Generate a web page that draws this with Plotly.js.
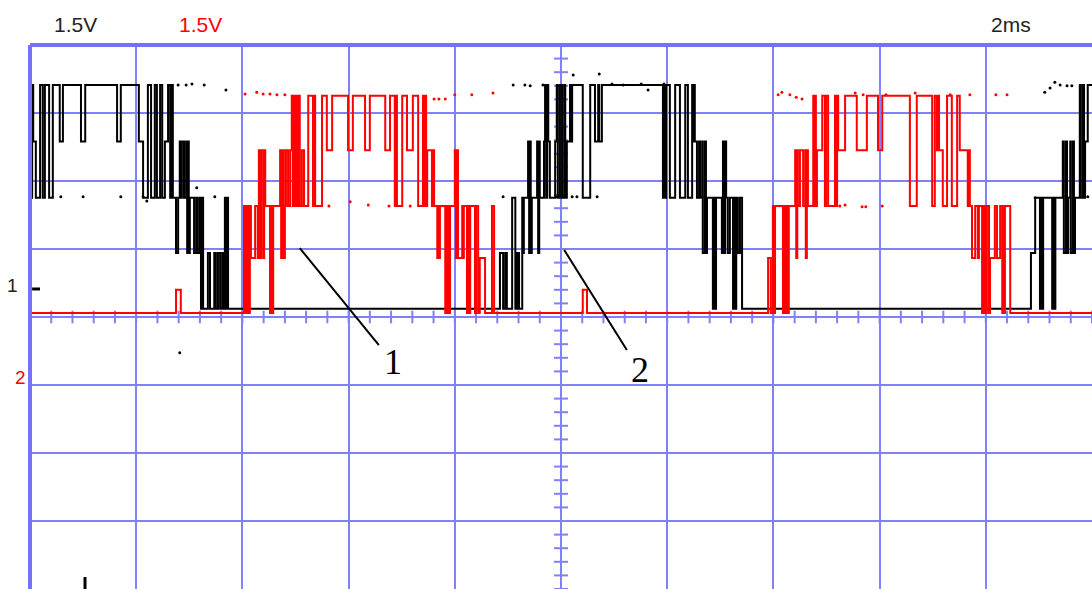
<!DOCTYPE html>
<html>
<head>
<meta charset="utf-8">
<script src="https://cdn.plot.ly/plotly-3.0.1.min.js"></script>
<style>html,body{margin:0;padding:0;background:#fff;}#chart{width:1092px;height:589px;}</style>
</head>
<body>
<div id="chart"></div>
<script>
// Oscilloscope capture: 2 ms/div, 1.5 V/div on both channels
const channelLabels = ["1.5V", "1.5V"];
const timeLabel = "2ms";

// Channel 1 (black): discrete levels in volts, transitions (ms) and level index after each transition
const blackLevels = [0.18, 1.41, 2.63, 3.87, 5.12];
const blackTimes = [
  0.00, 0.02, 0.04, 0.06, 0.11, 0.19, 0.24, 0.28, 0.36, 0.43,
  0.56, 0.62, 0.96, 1.04, 1.64, 1.71, 2.05, 2.13, 2.22, 2.28,
  2.35, 2.39, 2.45, 2.49, 2.54, 2.60, 2.64, 2.66, 2.69, 2.75,
  2.79, 2.82, 2.84, 2.86, 2.90, 2.94, 2.96, 2.98, 2.99, 3.01,
  3.09, 3.13, 3.16, 3.20, 3.22, 3.24, 3.26, 3.35, 3.39, 3.47,
  3.50, 3.54, 3.58, 3.62, 3.65, 3.67, 3.69, 3.71, 3.73,
  8.85, 8.91, 8.95, 8.98, 9.08, 9.14, 9.15, 9.17, 9.19, 9.21,
  9.27, 9.28, 9.30, 9.38, 9.40, 9.42, 9.43, 9.45, 9.55, 9.57,
  9.59, 9.60, 9.68, 9.70, 9.72, 9.74, 9.76, 9.79, 9.89, 9.92,
  9.94, 9.98, 10.02, 10.06, 10.08, 10.11, 10.17, 10.19, 10.21, 10.41,
  10.55, 10.64, 10.70, 10.72, 10.77,
  11.92, 11.94, 11.96, 11.98, 12.05, 12.15, 12.24, 12.34, 12.39, 12.47,
  12.49, 12.51, 12.52, 12.56, 12.60, 12.62, 12.66, 12.67, 12.71, 12.73,
  12.75, 12.86, 12.88, 12.90, 12.92, 13.03, 13.05, 13.07, 13.09, 13.11,
  13.14, 13.18, 13.24, 13.26, 13.28, 13.30, 13.33, 13.37, 13.41,
  18.85, 18.93, 19.02, 19.04, 19.06, 19.08, 19.25, 19.27, 19.29, 19.31,
  19.45, 19.47, 19.51, 19.53, 19.55, 19.59, 19.60, 19.64, 19.66, 19.68,
  19.77, 19.79, 19.83, 19.85, 19.87, 19.92
];
const blackSteps = [
  4, 2, 4, 3, 2, 4, 2, 4, 2, 4,
  3, 4, 3, 4, 3, 4, 3, 2, 4, 2,
  4, 2, 4, 2, 3, 4, 2, 4, 2, 1,
  2, 3, 2, 3, 2, 3, 1, 3, 1, 2,
  1, 2, 1, 2, 0, 2, 0, 1, 0, 1,
  0, 1, 0, 1, 0, 2, 0, 2, 0,
  1, 0, 1, 0, 2, 0, 1, 0, 1, 0,
  2, 1, 2, 3, 1, 3, 1, 2, 3, 1,
  3, 2, 3, 4, 2, 4, 3, 2, 3, 4,
  2, 4, 2, 4, 2, 3, 4, 3, 4, 2,
  4, 3, 4, 3, 4,
  2, 4, 2, 4, 2, 4, 2, 4, 2, 4,
  3, 4, 3, 2, 3, 2, 3, 1, 3, 1,
  2, 0, 2, 0, 2, 1, 3, 1, 3, 2,
  1, 2, 0, 2, 0, 2, 1, 2, 0,
  1, 2, 0, 2, 0, 2, 0, 2, 0, 2,
  3, 1, 3, 1, 2, 3, 1, 3, 1, 2,
  4, 2, 4, 2, 3, 4
];

// Channel 2 (red): levels in volts (last entry = short glitch level)
const redLevels = [0.09, 1.30, 2.45, 3.68, 4.88, 0.60];
const redTimes = [
  0.00, 2.75, 2.84, 4.03, 4.05, 4.07, 4.09, 4.11, 4.12, 4.14,
  4.16, 4.24, 4.29, 4.31, 4.33, 4.35, 4.39, 4.41, 4.43, 4.52,
  4.54, 4.56, 4.58, 4.71, 4.73, 4.75, 4.78, 4.80, 4.82, 4.86,
  4.90, 4.93, 4.95, 4.97, 4.99, 5.01, 5.03, 5.05, 5.08, 5.12,
  5.16, 5.24, 5.33, 5.35, 5.37, 5.50, 5.59, 5.69, 5.99, 6.08,
  6.31, 6.40, 6.69, 6.78, 6.87, 6.89, 6.91, 7.01, 7.10, 7.21,
  7.31, 7.40, 7.42, 7.44, 7.46, 7.48, 7.57, 7.59, 7.61, 7.67,
  7.68, 7.70, 7.72, 7.82, 7.84, 7.85, 7.87, 7.89, 7.91, 8.00,
  8.02, 8.04, 8.06, 8.14, 8.15, 8.17, 8.23, 8.25, 8.27, 8.29,
  8.38, 8.40, 8.44, 8.47, 8.57, 8.70, 8.74, 10.41, 10.49, 13.90,
  13.95, 13.99, 14.01, 14.03, 14.18, 14.20, 14.22, 14.24, 14.26, 14.29,
  14.41, 14.43, 14.45, 14.46, 14.50, 14.56, 14.60, 14.61, 14.63, 14.65,
  14.75, 14.76, 14.78, 14.80, 14.82, 14.92, 14.97, 14.99, 15.03, 15.16,
  15.18, 15.20, 15.22, 15.35, 15.57, 15.76, 15.97, 16.05, 16.57, 16.70,
  16.99, 17.04, 17.08, 17.10, 17.12, 17.19, 17.27, 17.36, 17.46, 17.51,
  17.66, 17.68, 17.70, 17.74, 17.80, 17.85, 17.87, 17.93, 17.95, 17.97,
  17.99, 18.00, 18.02, 18.06, 18.08, 18.17, 18.21, 18.27, 18.31, 18.32,
  18.34, 18.36, 18.46
];
const redSteps = [
  0, 5, 0, 2, 0, 2, 0, 2, 0, 2,
  1, 2, 1, 3, 1, 3, 1, 3, 2, 0,
  2, 0, 2, 3, 1, 3, 1, 2, 3, 2,
  3, 4, 2, 4, 2, 4, 2, 4, 2, 3,
  2, 4, 2, 4, 2, 4, 3, 4, 3, 4,
  3, 4, 3, 4, 2, 4, 2, 4, 3, 4,
  2, 4, 2, 4, 2, 3, 2, 3, 2, 1,
  2, 1, 2, 0, 2, 0, 2, 0, 2, 3,
  1, 3, 1, 2, 1, 2, 0, 2, 0, 2,
  0, 2, 0, 1, 0, 2, 0, 5, 0, 1,
  0, 2, 0, 2, 0, 2, 0, 2, 0, 2,
  3, 1, 3, 2, 3, 2, 3, 1, 3, 2,
  4, 2, 4, 2, 3, 4, 2, 4, 2, 4,
  2, 4, 3, 4, 3, 4, 3, 4, 2, 4,
  2, 4, 3, 4, 3, 2, 4, 2, 4, 3,
  2, 3, 2, 1, 2, 1, 2, 0, 2, 0,
  2, 0, 2, 0, 1, 2, 1, 2, 0, 2,
  0, 2, 0
];

// Isolated sample dots (ms, V)
const blackDotT = [0.58, 1.00, 1.71, 2.13, 2.20, 3.14, 3.48, 2.79, 2.94, 3.05, 3.28, 3.69, 2.82, 9.10, 9.32, 9.42, 9.66, 8.91, 9.91, 10.23, 10.72, 10.96, 11.17, 11.51, 11.64, 11.94, 10.21, 10.30, 10.68, 19.11, 19.21, 19.30, 19.40, 19.53, 19.62, 18.93, 19.92];
const blackDotV = [2.65, 2.65, 2.65, 2.65, 2.56, 2.85, 2.65, 5.12, 5.12, 5.14, 5.12, 5.01, -0.79, 5.12, 5.12, 5.10, 5.12, 2.65, 2.65, 5.34, 5.36, 5.14, 5.12, 5.14, 5.01, 5.14, 2.65, 2.65, 2.65, 4.96, 5.05, 5.18, 5.12, 5.10, 5.10, 2.63, 2.65];
const redDotT = [4.05, 4.27, 4.39, 4.52, 4.65, 4.80, 7.61, 7.70, 7.82, 8.00, 8.32, 8.72, 5.63, 6.03, 6.37, 6.76, 7.16, 14.09, 14.16, 14.31, 14.43, 14.54, 15.54, 15.69, 16.12, 16.67, 17.33, 17.70, 18.19, 18.40, 15.25, 15.35, 15.67, 15.74, 16.05];
const redDotV = [4.92, 4.96, 4.92, 4.92, 4.90, 4.90, 4.81, 4.81, 4.81, 4.90, 4.90, 4.94, 2.45, 2.54, 2.47, 2.45, 2.45, 4.90, 4.96, 4.90, 4.85, 4.81, 4.94, 4.90, 4.90, 4.94, 4.90, 4.90, 4.90, 4.90, 2.45, 2.47, 2.43, 2.43, 2.45];

// Callouts: pointer start/end (ms, V) and label
const calloutLabels = ["1", "2"];
const calloutStartT = [5.08, 10.06];
const calloutStartV = [1.52, 1.48];
const calloutEndT = [6.57, 11.24];
const calloutEndV = [-0.62, -0.73];
const calloutTextT = [6.84, 11.49];
const calloutTextV = [-0.99, -1.17];

const T_MAX = 20, V_MAX = 6;

function stepSeries(times, steps, levels) {
  const x = [], y = [];
  for (let i = 0; i < times.length; i++) { x.push(times[i]); y.push(levels[steps[i]]); }
  x.push(T_MAX); y.push(levels[steps[steps.length - 1]]);
  return {x, y};
}
const blk = stepSeries(blackTimes, blackSteps, blackLevels);
const red = stepSeries(redTimes, redSteps, redLevels);

const gridColor = "#8080fa";

// graticule minor ticks on centre lines
const vtY = [], vtX = [];
for (let k = -30; k <= 30; k++) { vtY.push(k * 0.3); vtX.push(T_MAX / 2); }
const htX = [], htY = [];
for (let k = 0; k <= 50; k++) { htX.push(k * 0.4); htY.push(0); }

const traces = [
  {x: vtX, y: vtY, mode: "markers", hoverinfo: "skip",
   marker: {symbol: "line-ew", size: 10, line: {color: gridColor, width: 2}}},
  {x: htX, y: htY, mode: "markers", hoverinfo: "skip",
   marker: {symbol: "line-ns", size: 9, line: {color: gridColor, width: 2}}},
  {x: blk.x, y: blk.y, mode: "lines", line: {color: "#000000", width: 2, shape: "hv"}, hoverinfo: "skip"},
  {x: red.x, y: red.y, mode: "lines", line: {color: "#ff0000", width: 2, shape: "hv"}, hoverinfo: "skip"},
  {x: blackDotT, y: blackDotV, mode: "markers", marker: {color: "#000", size: 3}, hoverinfo: "skip"},
  {x: redDotT, y: redDotV, mode: "markers", marker: {color: "#ff0000", size: 3}, hoverinfo: "skip"}
];

const shapes = [
  {type: "line", xref: "paper", yref: "paper", x0: 0, x1: 0, y0: 0, y1: 1, line: {color: "#7272fa", width: 4}},
  {type: "line", xref: "paper", yref: "paper", x0: 0, x1: 1, y0: 1, y1: 1, line: {color: "#7272fa", width: 4}},
  {type: "line", xref: "paper", yref: "paper", x0: 0.002, x1: 0.0094, y0: 0.5515, y1: 0.5515, line: {color: "#000", width: 3}},
  {type: "line", xref: "paper", yref: "paper", x0: 0.0518, x1: 0.0518, y0: 0, y1: 0.022, line: {color: "#000", width: 3}}
];
for (let i = 0; i < calloutLabels.length; i++) {
  shapes.push({type: "line", xref: "x", yref: "y", x0: calloutStartT[i], y0: calloutStartV[i],
    x1: calloutEndT[i], y1: calloutEndV[i], line: {color: "#000", width: 2}});
}

const annotations = [
  {xref: "paper", yref: "paper", x: 0.0424, y: 1.0386, text: channelLabels[0], showarrow: false,
   font: {family: "Liberation Sans, Arial, sans-serif", size: 21, color: "#222"}, xanchor: "center", yanchor: "middle"},
  {xref: "paper", yref: "paper", x: 0.161, y: 1.0386, text: channelLabels[1], showarrow: false,
   font: {family: "Liberation Sans, Arial, sans-serif", size: 21, color: "#ff0000"}, xanchor: "center", yanchor: "middle"},
  {xref: "paper", yref: "paper", x: 0.9237, y: 1.0386, text: timeLabel, showarrow: false,
   font: {family: "Liberation Sans, Arial, sans-serif", size: 21, color: "#222"}, xanchor: "center", yanchor: "middle"},
  {xref: "paper", yref: "paper", x: -0.0165, y: 0.557, text: "1", showarrow: false,
   font: {family: "Liberation Sans, Arial, sans-serif", size: 19, color: "#222"}, xanchor: "center", yanchor: "middle"},
  {xref: "paper", yref: "paper", x: -0.0085, y: 0.388, text: "2", showarrow: false,
   font: {family: "Liberation Sans, Arial, sans-serif", size: 19, color: "#ff0000"}, xanchor: "center", yanchor: "middle"}
];
for (let i = 0; i < calloutLabels.length; i++) {
  annotations.push({xref: "x", yref: "y", x: calloutTextT[i], y: calloutTextV[i], text: calloutLabels[i],
    showarrow: false, xanchor: "center", yanchor: "middle",
    font: {family: "Liberation Serif, Times New Roman, serif", size: 36, color: "#000"}});
}

const layout = {
  width: 1092, height: 589,
  margin: {l: 30, r: 0, t: 45, b: 0, pad: 0},
  paper_bgcolor: "#ffffff", plot_bgcolor: "#ffffff",
  showlegend: false,
  xaxis: {range: [0, T_MAX], dtick: 2, tick0: 0, showgrid: true, gridcolor: gridColor, gridwidth: 2,
          zeroline: false, showticklabels: false, ticks: "", showline: false, fixedrange: true},
  yaxis: {range: [-V_MAX, V_MAX], dtick: 1.5, tick0: 0, showgrid: true, gridcolor: gridColor, gridwidth: 2,
          zeroline: false, showticklabels: false, ticks: "", showline: false, fixedrange: true},
  shapes: shapes,
  annotations: annotations
};

Plotly.newPlot("chart", traces, layout, {displayModeBar: false, staticPlot: true});
</script>
</body>
</html>
